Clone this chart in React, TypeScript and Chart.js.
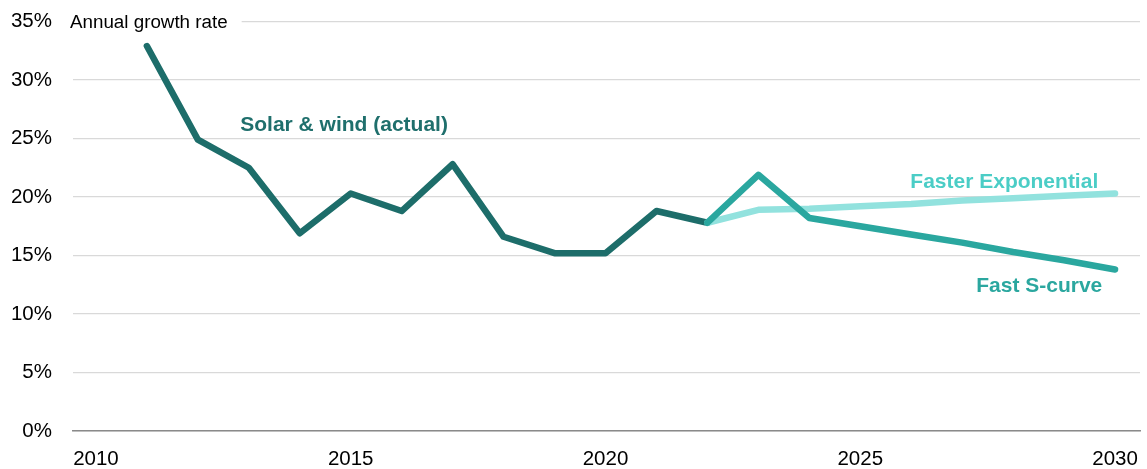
import React, { useEffect, useRef } from "react";
import { Chart, registerables } from "chart.js";

Chart.register(...registerables);

const actualYears = [2011, 2012, 2013, 2014, 2015, 2016, 2017, 2018, 2019, 2020, 2021, 2022];
const actualValues = [32.9, 24.9, 22.5, 16.9, 20.3, 18.8, 22.8, 16.6, 15.2, 15.2, 18.8, 17.8];

const projYears = [2022, 2023, 2024, 2025, 2026, 2027, 2028, 2029, 2030];
const sCurveValues = [17.8, 21.9, 18.2, 17.5, 16.8, 16.1, 15.3, 14.6, 13.8];
const exponentialValues = [17.8, 18.9, 19.0, 19.2, 19.4, 19.7, 19.9, 20.1, 20.3];

const xTickYears = [2010, 2015, 2020, 2025, 2030];
const yTicks = [0, 5, 10, 15, 20, 25, 30, 35];

const FONT = "'Liberation Sans', Arial, sans-serif";

const labelsPlugin = {
  id: "seriesLabels",
  afterDraw(chart: any) {
    const { ctx, scales, chartArea } = chart;
    const x = scales.x;
    const y = scales.y;
    ctx.save();
    ctx.font = `18.8px ${FONT}`;
    const title = "Annual growth rate";
    const tw = ctx.measureText(title).width;
    const tx = chartArea.left - 3;
    const ty = y.getPixelForValue(35);
    ctx.fillStyle = "#ffffff";
    ctx.fillRect(tx - 2, ty - 4, tw + 16, 8);
    ctx.fillStyle = "#000000";
    ctx.textAlign = "left";
    ctx.textBaseline = "alphabetic";
    ctx.fillText(title, tx, ty + 6);

    ctx.font = `bold 21px ${FONT}`;
    ctx.textAlign = "center";
    ctx.fillStyle = "#1F6F6C";
    ctx.fillText("Solar & wind (actual)", x.getPixelForValue(2014.87), y.getPixelForValue(25.6));

    ctx.textAlign = "right";
    ctx.fillStyle = "#4BCDC6";
    ctx.fillText("Faster Exponential", x.getPixelForValue(2029.67), y.getPixelForValue(20.8));

    ctx.fillStyle = "#2BA79F";
    ctx.fillText("Fast S-curve", x.getPixelForValue(2029.75), y.getPixelForValue(11.9));
    ctx.restore();
  },
};

export default function App() {
  const ref = useRef<HTMLCanvasElement | null>(null);

  useEffect(() => {
    document.body.style.margin = "0";
    const canvas = ref.current;
    if (!canvas) return;
    const toPts = (xs: number[], ys: number[]) => xs.map((v, i) => ({ x: v, y: ys[i] }));
    const common = {
      borderWidth: 6.5,
      pointRadius: 0,
      pointHoverRadius: 0,
      fill: false,
      tension: 0,
      borderCapStyle: "round" as const,
      borderJoinStyle: "round" as const,
    };
    const chart = new Chart(canvas, {
      type: "line",
      data: {
        datasets: [
          {
            ...common,
            label: "Solar & wind (actual)",
            data: toPts(actualYears, actualValues),
            borderColor: "#1D6D6A",
            order: 3,
          },
          {
            ...common,
            label: "Faster Exponential",
            data: toPts(projYears, exponentialValues),
            borderColor: "#92E2DE",
            order: 2,
          },
          {
            ...common,
            label: "Fast S-curve",
            data: toPts(projYears, sCurveValues),
            borderColor: "#2AA79F",
            order: 1,
          },
        ],
      },
      options: {
        animation: false,
        responsive: false,
        maintainAspectRatio: false,
        layout: { padding: { top: 21.5, left: 0, right: 7, bottom: 0 } },
        plugins: {
          legend: { display: false },
          tooltip: { enabled: false },
          title: { display: false },
        },
        scales: {
          x: {
            type: "linear",
            min: 2009.55,
            max: 2030.49,
            afterBuildTicks: (scale: any) => {
              scale.ticks = xTickYears.map((v) => ({ value: v }));
            },
            afterFit: (scale: any) => {
              scale.height = 38;
              scale.paddingLeft = 0;
              scale.paddingRight = 0;
              scale.paddingTop = 0;
              scale.paddingBottom = 0;
            },
            grid: { display: false, drawTicks: false },
            border: { display: true, color: "#8a8a8a", width: 1.5 },
            ticks: {
              color: "#000000",
              font: { family: FONT, size: 20.5 },
              padding: 16,
              maxRotation: 0,
              autoSkip: false,
              callback: (v: any) => String(v),
            },
          },
          y: {
            min: 0,
            max: 35,
            afterBuildTicks: (scale: any) => {
              scale.ticks = yTicks.map((v) => ({ value: v }));
            },
            afterFit: (scale: any) => {
              scale.width = 73;
              scale.paddingLeft = 0;
              scale.paddingRight = 0;
              scale.paddingTop = 0;
              scale.paddingBottom = 0;
            },
            grid: { color: "#d9d9d9", lineWidth: 1.3, drawTicks: false },
            border: { display: false },
            ticks: {
              color: "#000000",
              font: { family: FONT, size: 20.5 },
              padding: 21,
              callback: (v: any) => `${v}%`,
            },
          },
        },
      },
      plugins: [labelsPlugin],
    });
    return () => chart.destroy();
  }, []);

  return (
    <div style={{ width: 1147, height: 469 }}>
      <canvas ref={ref} width={1147} height={469} style={{ display: "block" }} />
    </div>
  );
}
